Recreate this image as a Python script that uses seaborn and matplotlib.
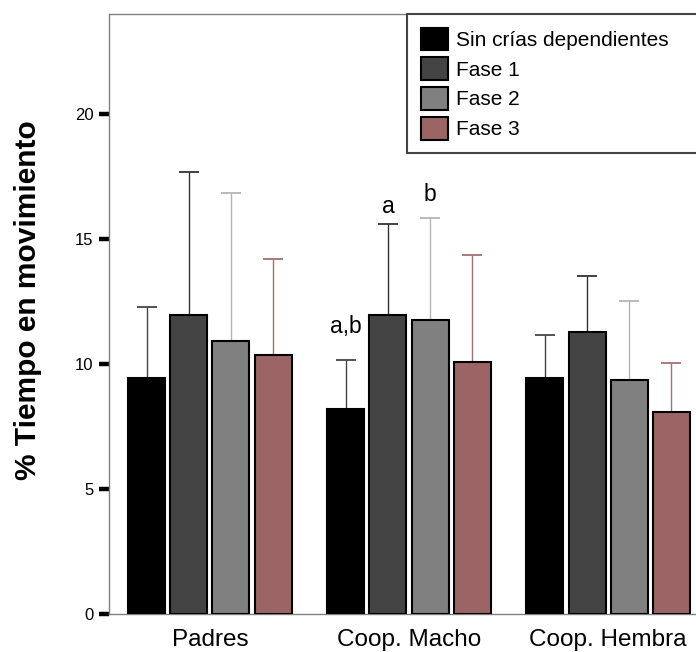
import matplotlib
matplotlib.use("Agg")
import matplotlib.pyplot as plt
import seaborn as sns
import pandas as pd
from matplotlib.patches import Patch

# ---- data ----
grupos = ["Padres", "Coop. Macho", "Coop. Hembra"]
fases = ["Sin crías dependientes", "Fase 1", "Fase 2", "Fase 3"]
medias = {
    "Sin crías dependientes": [9.45, 8.20, 9.44],
    "Fase 1": [11.95, 11.95, 11.27],
    "Fase 2": [10.92, 11.76, 9.36],
    "Fase 3": [10.36, 10.09, 8.09],
}
superior = {  # top of error bar
    "Sin crías dependientes": [12.27, 10.17, 11.17],
    "Fase 1": [17.67, 15.60, 13.52],
    "Fase 2": [16.84, 15.84, 12.51],
    "Fase 3": [14.19, 14.35, 10.03],
}
colores = ["#000000", "#444444", "#808080", "#9b6565"]
colores_error = ["#444444", "#333333", "#b4b4b4", "#a36f6f"]
y_ticks = [0, 5, 10, 15, 20]
anot_texto = ["a,b", "a", "b"]
anot_grupo = [1, 1, 1]
anot_fase = [0, 1, 2]
anot_y = [11.24, 16.04, 16.53]

rows = []
for f in fases:
    for g, m, s in zip(grupos, medias[f], superior[f]):
        rows.append({"grupo": g, "fase": f, "media": m, "sup": s})
df = pd.DataFrame(rows)

sns.set_theme(style="white")
plt.rcParams["font.family"] = ["Liberation Sans", "DejaVu Sans"]
plt.rcParams["text.color"] = "black"
plt.rcParams["axes.labelcolor"] = "black"
plt.rcParams["xtick.labelcolor"] = "black"
plt.rcParams["ytick.labelcolor"] = "black"

fig = plt.figure(figsize=(6.96, 6.52), dpi=100)
ax = fig.add_axes([109 / 696, 1 - 614 / 652, 600 / 696, 600 / 652])

sns.barplot(data=df, x="grupo", y="media", hue="fase", order=grupos,
            hue_order=fases, palette=colores, width=0.845, gap=0.12,
            edgecolor="black", linewidth=1.5, errorbar=None, legend=False,
            saturation=1, ax=ax, zorder=3)

# error bars (upper only) from the bar patches
bars = [p for p in ax.patches]
for hi, f in enumerate(fases):
    for gi, g in enumerate(grupos):
        p = bars[hi * len(grupos) + gi]
        xc = p.get_x() + p.get_width() / 2
        top = p.get_height()
        up = superior[f][gi]
        hw = p.get_width() * 0.27
        ax.vlines(xc, top, up, color=colores_error[hi], lw=1.0, zorder=2)
        ax.hlines(up, xc - hw, xc + hw, color=colores_error[hi], lw=1.3, zorder=2)

for t, gi, hi, yy in zip(anot_texto, anot_grupo, anot_fase, anot_y):
    p = bars[hi * len(grupos) + gi]
    xc = p.get_x() + p.get_width() / 2
    ax.text(xc, yy, t, ha="center", va="baseline", fontsize=16.5, color="black")

ax.set_xlim(-0.507, 2.507)
ax.set_ylim(0, 24)
ax.set_yticks(y_ticks)
ax.set_yticklabels([str(v) for v in y_ticks], fontsize=12, color="black")
ax.tick_params(axis="y", direction="out", length=7, width=3.2, color="black",
               pad=4, left=True, labelcolor="black")
ax.tick_params(axis="x", length=0, pad=11, labelsize=17.5, labelcolor="black")
ax.set_xlabel("")
ax.set_ylabel("% Tiempo en movimiento", fontsize=21.5, fontweight="bold",
              color="black")
ax.yaxis.set_label_coords(-0.135, 0.523)
ax.yaxis.label.set_va("center")
for s in ax.spines.values():
    s.set_color("#808080")
    s.set_linewidth(1.0)

handles = [Patch(facecolor=c, edgecolor="black", linewidth=1.5) for c in colores]
leg = ax.legend(handles, fases, loc="upper left", mode="expand",
                bbox_to_anchor=(407 / 696, 0, (716 - 407) / 696, 1 - 14 / 652),
                bbox_transform=fig.transFigure, borderaxespad=0,
                fontsize=15, handlelength=1.3, handleheight=1.3,
                handletextpad=0.42, labelspacing=0.34, borderpad=0.65,
                fancybox=False, framealpha=1, labelcolor="black")
leg.get_frame().set_edgecolor("#444444")
leg.get_frame().set_linewidth(1.5)
leg.set_zorder(5)

fig.savefig("out.png", dpi=100)
